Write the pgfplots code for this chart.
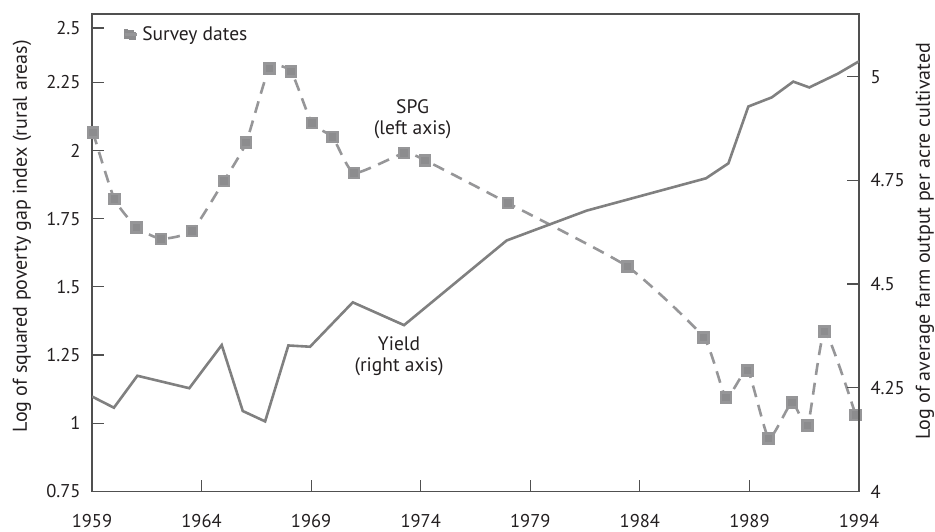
\documentclass[border=0pt]{standalone}
\usepackage{pgfplots}
\pgfplotsset{compat=1.18}
\usepackage{fontspec}
\setmainfont{PT Sans}
\definecolor{linegray}{RGB}{128,128,128}
\definecolor{dashgray}{RGB}{150,150,152}
\definecolor{markgray}{RGB}{140,140,142}
\definecolor{axisgray}{RGB}{80,80,80}
\definecolor{txt}{RGB}{35,31,32}
\begin{document}
\fontsize{19}{21}\selectfont
\begin{tikzpicture}
\begin{axis}[
  scale only axis, width=767pt, height=477.5pt,
  xmin=1959, xmax=1994, ymin=0.75, ymax=2.5,
  axis line style={axisgray, line width=1.2pt},
  xtick={1959,1964,1969,1974,1979,1984,1989,1994},
  xticklabels={1959,1964,1969,1974,1979,1984,1989,1994},
  ytick={0.75,1,1.25,1.5,1.75,2,2.25,2.449},
  yticklabels={0.75,1,1.25,1.5,1.75,2,2.25,2.5},
  xtick pos=bottom, ytick pos=left,
  tick align=inside, major tick length=12pt,
  tick style={axisgray, line width=1.2pt},
  /pgf/number format/assume math mode=true,
  tick label style={font=\fontsize{18.5}{20}\selectfont, text=txt},
  xticklabel style={yshift=-16.5pt},
  yticklabel style={xshift=-5pt},
  clip=false,
  legend style={at={(rel axis cs:0,1)}, anchor=north west, draw=none, fill=none,
    font=\fontsize{19.5}{21}\selectfont, text=txt, xshift=29pt, yshift=-8pt},
  legend image code/.code={\fill[markgray] (-4.5pt,-4.5pt) rectangle (4.5pt,4.5pt); \path (-4.5pt,0) -- (9pt,0);},
]
\coordinate (SW) at (rel axis cs:0,0);
\coordinate (NE) at (rel axis cs:1,1);
\addplot[dashgray, line width=2.6pt, dash pattern=on 12pt off 8pt, smooth, tension=0.3,
  mark=square*, mark size=5pt, mark options={solid, fill=markgray, draw=none}]
coordinates {
(1959.05,2.065) (1960.02,1.822) (1961.04,1.718) (1962.15,1.676) (1963.56,1.705)
(1965.02,1.888) (1966.03,2.028) (1967.09,2.301) (1968.08,2.290) (1969.03,2.100)
(1969.98,2.049) (1970.96,1.917) (1973.24,1.990) (1974.20,1.964) (1977.98,1.807)
(1983.44,1.574) (1986.91,1.315) (1987.93,1.094) (1988.92,1.194) (1989.88,0.945)
(1990.94,1.077) (1991.66,0.991) (1992.43,1.337) (1993.85,1.030)
};
\addlegendentry{Survey dates}
\node[align=center, text=txt, font=\fontsize{19.5}{21}\selectfont] at (axis cs:1973.63,2.116) {SPG\\(left axis)};
\node[align=center, text=txt, font=\fontsize{19.5}{21}\selectfont] at (axis cs:1973.01,1.246) {Yield\\(right axis)};
\node[rotate=90, text=txt, font=\fontsize{20}{22}\selectfont] at ([xshift=-70pt]rel axis cs:0,0.535) {Log of squared poverty gap index (rural areas)};
\node[rotate=90, text=txt, font=\fontsize{20}{22}\selectfont] at ([xshift=66pt]rel axis cs:1,0.5246) {Log of average farm output per acre cultivated};
\end{axis}
\begin{axis}[
  scale only axis, width=767pt, height=477.5pt,
  xmin=1959, xmax=1994, ymin=4, ymax=5.151,
  axis x line=none, axis y line*=right,
  axis line style={axisgray, line width=1.2pt},
  ytick={4,4.25,4.5,4.75,5},
  yticklabels={4,4.25,4.5,4.75,5},
  tick align=inside, major tick length=12pt,
  tick style={axisgray, line width=1.2pt},
  /pgf/number format/assume math mode=true,
  tick label style={font=\fontsize{18.5}{20}\selectfont, text=txt},
  yticklabel style={xshift=5pt},
]
\addplot[linegray, line width=2.6pt] coordinates {
(1959,4.229) (1960,4.202) (1961.07,4.279) (1963.44,4.249) (1964.92,4.353)
(1965.88,4.194) (1966.90,4.169) (1967.96,4.352) (1968.95,4.349) (1970.90,4.456)
(1973.24,4.401) (1977.92,4.605) (1981.57,4.677) (1987.02,4.755) (1988.04,4.791)
(1988.95,4.928) (1990.02,4.950) (1991.0,4.988) (1991.73,4.974) (1993.03,5.007)
(1994,5.037)
};
\end{axis}
\pgfresetboundingbox
\path ([shift={(-92pt,-39.5pt)}]SW) rectangle ([shift={(76pt,14pt)}]NE);
\end{tikzpicture}
\end{document}
